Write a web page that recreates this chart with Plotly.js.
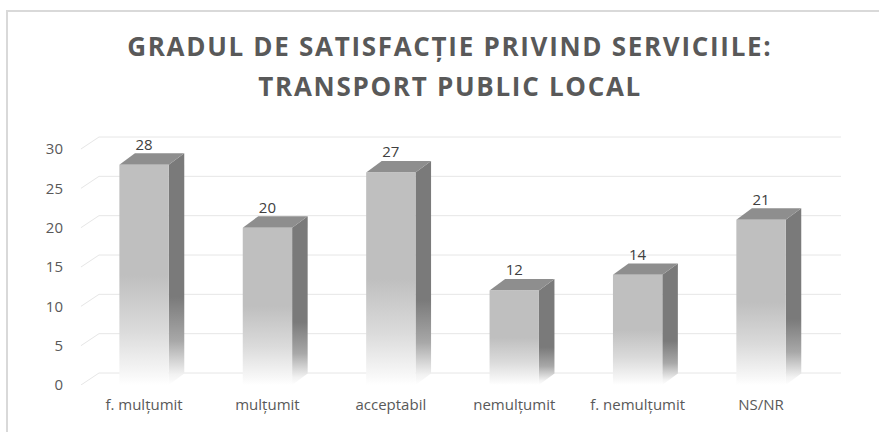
<!DOCTYPE html>
<html>
<head>
<meta charset="utf-8">
<script src="https://cdn.plot.ly/plotly-3.0.1.min.js"></script>
<style>
html,body{margin:0;padding:0;background:#fff;}
#wrap{position:relative;width:879px;height:432px;overflow:hidden;}
#chart{width:879px;height:432px;}
#chart .annotation-text{letter-spacing:1.7px;}
#frame{position:absolute;left:6px;top:10px;width:900px;height:500px;border-left:2px solid #d9d9d9;border-top:2px solid #d9d9d9;pointer-events:none;}
</style>
</head>
<body>
<div id="wrap"><div id="chart"></div><div id="frame"></div></div>
<script>
// ---- data ----
const categories = ['f. mulțumit', 'mulțumit', 'acceptabil', 'nemulțumit', 'f. nemulțumit', 'NS/NR'];
const values = [28, 20, 27, 12, 14, 21];
const yTicks = [0, 5, 10, 15, 20, 25, 30];
const titleLines = ['GRADUL DE SATISFACȚIE PRIVIND SERVICIILE:', 'TRANSPORT PUBLIC LOCAL'];

// ---- geometry (styles) ----
const L = 70, R = 29, T = 125, B = 47;
const X0 = -0.6, X1 = 5.721, Y0 = 0, Y1 = 33.05;
const halfW = 0.2;          // half width of front face
const depthX = 0.126, depthY = 1.46;   // 3D depth of bars
const gDX = 0.146, gDY = 1.525;        // 3D depth of the back wall grid
const gx0 = -0.511, gx1 = 5.648;
const FONT = 'Open Sans, Lato, sans-serif';

const traces = [];

// back-wall gridlines
const gxs = [], gys = [];
yTicks.forEach(t => {
  gxs.push(gx0, gx0 + gDX, gx1, null);
  gys.push(t, t + gDY, t + gDY, null);
});
traces.push({type:'scatter', mode:'lines', x:gxs, y:gys, line:{color:'#e6e6e6', width:1},
  hoverinfo:'skip', showlegend:false, cliponaxis:false});

// bars as 3 faces
values.forEach((v, i) => {
  const xl = i - halfW, xr = i + halfW;
  // side face
  traces.push({type:'scatter', mode:'lines', x:[xr, xr + depthX, xr + depthX, xr, xr], y:[0, depthY, v + depthY, v, 0],
    fill:'toself', line:{width:0, color:'rgba(0,0,0,0)'},
    fillgradient:{type:'vertical', start:0, stop:v * 0.4,
      colorscale:[[0,'#ffffff'],[0.12,'#f2f2f2'],[0.5,'#a8a8a8'],[1,'#7a7a7a']]},
    hoverinfo:'skip', showlegend:false});
  // top face
  traces.push({type:'scatter', mode:'lines', x:[xl, xl + depthX, xr + depthX, xr, xl], y:[v, v + depthY, v + depthY, v, v],
    fill:'toself', fillcolor:'#8e8e8e', line:{width:0, color:'rgba(0,0,0,0)'},
    hoverinfo:'skip', showlegend:false});
  // front face
  traces.push({type:'scatter', mode:'lines', x:[xl, xr, xr, xl, xl], y:[0, 0, v, v, 0],
    fill:'toself', line:{width:0, color:'rgba(0,0,0,0)'},
    fillgradient:{type:'vertical', start:0, stop:v * 0.5,
      colorscale:[[0,'#ffffff'],[0.1,'#f7f7f7'],[0.5,'#dadada'],[1,'#bfbfbf']]},
    hoverinfo:'skip', showlegend:false});
});

// value labels
traces.push({type:'scatter', mode:'text', x:values.map((v, i) => i), y:values.map(v => v + 2.4),
  text:values.map(v => String(v)), textposition:'middle center',
  textfont:{family:FONT, size:15, color:'#404040'},
  hoverinfo:'skip', showlegend:false, cliponaxis:false});

const layout = {
  width:879, height:432,
  margin:{l:L, r:R, t:T, b:B, pad:0},
  paper_bgcolor:'#ffffff', plot_bgcolor:'rgba(0,0,0,0)',
  showlegend:false,
  xaxis:{range:[X0, X1], tickvals:categories.map((c, i) => i), ticktext:categories,
    showgrid:false, zeroline:false, showline:false, ticks:'', ticklabelstandoff:9,
    tickfont:{family:FONT, size:15, color:'#595959'}, fixedrange:true},
  yaxis:{range:[Y0, Y1], tickvals:yTicks, showgrid:false, zeroline:false, showline:false, ticks:'',
    ticklabelstandoff:6,
    tickfont:{family:FONT, size:15, color:'#595959'}, fixedrange:true},
  annotations:[
    {text:titleLines[0], xref:'paper', yref:'paper', x:0.487, y:(385 - 46) / 260, xanchor:'center', yanchor:'middle',
      showarrow:false, font:{family:FONT, size:26, color:'#595959', weight:'bold'}},
    {text:titleLines[1], xref:'paper', yref:'paper', x:0.487, y:(385 - 86) / 260, xanchor:'center', yanchor:'middle',
      showarrow:false, font:{family:FONT, size:26, color:'#595959', weight:'bold'}}
  ]
};

Plotly.newPlot('chart', traces, layout, {displayModeBar:false, staticPlot:true});
</script>
</body>
</html>
